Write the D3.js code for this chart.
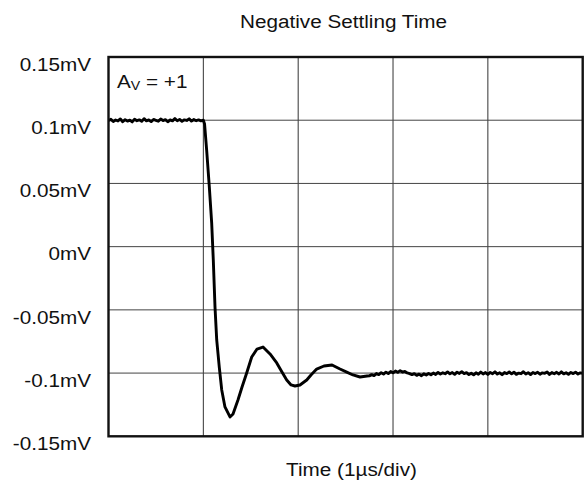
<!DOCTYPE html>
<html>
<head>
<meta charset="utf-8">
<script src="https://cdn.jsdelivr.net/npm/d3@7/dist/d3.min.js"></script>
<style>
  html, body { margin: 0; padding: 0; background: #fff; }
  svg { display: block; font-family: "Liberation Sans", Arial, sans-serif; }
</style>
</head>
<body>
<svg id="chart" width="585" height="484"></svg>
<script>
// ---- data ----
const title = "Negative Settling Time";
const xLabel = "Time (1µs/div)";
const yTickValues = [0.15, 0.1, 0.05, 0, -0.05, -0.1, -0.15];
const yTickLabels = ["0.15mV", "0.1mV", "0.05mV", "0mV", "-0.05mV", "-0.1mV", "-0.15mV"];
const xDivisions = [0, 1, 2, 3, 4, 5]; // µs

const sampleStep = 0.025; // µs between scope samples in flat sections
const preStart = 0;
const preValues = [0.0998,0.1007,0.0990,0.1002,0.0994,0.1010,0.0988,0.1004,0.0993,0.1001,
  0.0987,0.1008,0.0996,0.1003,0.0991,0.1012,0.0995,0.1002,0.0989,0.1006,
  0.0999,0.0992,0.1009,0.0997,0.1004,0.0988,0.1002,0.0995,0.1013,0.0996,
  0.1006,0.0991,0.1003,0.0998,0.1011,0.0993,0.1005,0.0996,0.1002,0.0995,0.1000];

const edgeTimes = [1.013,1.035,1.063,1.088,1.105,1.123,1.141,1.168,1.194,1.228,1.281,1.313,
  1.365,1.408,1.457,1.510,1.566,1.629,1.703,1.774,1.829,1.879,1.925,1.966,2.019,2.090,2.135,
  2.195,2.272,2.357,2.441,2.512,2.578,2.652,2.726];
const edgeValues = [0.097,0.0764,0.0472,0.0187,-0.0106,-0.0478,-0.0738,-0.0952,-0.1134,-0.1268,-0.1347,-0.1324,
  -0.1213,-0.111,-0.0999,-0.0873,-0.081,-0.0794,-0.0849,-0.092,-0.0992,-0.1055,-0.1094,-0.1102,-0.1094,-0.1055,-0.1015,
  -0.0968,-0.0944,-0.0936,-0.0968,-0.0992,-0.1015,-0.1031,-0.1023];

const tailStart = 2.75;
const tailValues = [-0.1022,-0.1012,-0.1020,-0.1004,-0.1012,-0.0997,-0.1008,-0.0993,-0.1004,-0.0988,
  -0.0998,-0.0984,-0.0994,-0.0981,-0.0992,-0.0987,-0.0999,-0.1004,-0.1012,-0.1004,
  -0.1018,-0.1008,-0.1021,-0.1006,-0.1015,-0.1003,-0.1013,-0.1000,-0.1011,-0.0995,
  -0.1008,-0.0998,-0.1005,-0.0991,-0.1006,-0.0996,-0.1010,-0.0993,-0.1003,-0.0989,
  -0.1004,-0.0997,-0.1012,-0.1001,-0.1014,-0.0998,-0.1009,-0.0992,-0.1007,-0.0996,
  -0.1011,-0.0995,-0.1005,-0.0990,-0.1008,-0.0998,-0.1013,-0.0996,-0.1004,-0.0991,
  -0.1006,-0.0993,-0.1010,-0.1000,-0.1005,-0.0989,-0.1007,-0.0997,-0.1012,-0.0995,
  -0.1004,-0.0994,-0.1009,-0.0998,-0.1002,-0.0991,-0.1011,-0.0996,-0.1005,-0.0994,
  -0.1007,-0.0990,-0.1006,-0.0997,-0.1010,-0.0995,-0.1004,-0.0993,-0.1008,-0.0998,-0.1001];

// ---- build trace ----
const trace = [];
preValues.forEach((v, i) => trace.push([preStart + i * sampleStep, v]));
edgeTimes.forEach((t, i) => trace.push([t, edgeValues[i]]));
tailValues.forEach((v, i) => trace.push([tailStart + i * sampleStep, v]));

// ---- layout ----
const L = 108.5, R = 582.7, T = 57, B = 436.3;
const sx = 1.09; // horizontal text stretch
const fs = 19;

const svg = d3.select("#chart");
const x = d3.scaleLinear().domain([0, 5]).range([L, R]);
const y = d3.scaleLinear().domain([-0.15, 0.15]).range([B, T]);

// grid
svg.append("g").selectAll("line").data(xDivisions.slice(1, -1)).join("line")
  .attr("x1", d => x(d)).attr("x2", d => x(d)).attr("y1", T).attr("y2", B)
  .attr("stroke", "#333").attr("stroke-width", 1);
svg.append("g").selectAll("line").data(yTickValues.slice(1, -1)).join("line")
  .attr("x1", L).attr("x2", R).attr("y1", d => y(d)).attr("y2", d => y(d))
  .attr("stroke", "#444").attr("stroke-width", 1);

// trace
svg.append("path").datum(trace)
  .attr("d", d3.line().x(d => x(d[0])).y(d => y(d[1])))
  .attr("fill", "none").attr("stroke", "#000").attr("stroke-width", 2.9)
  .attr("stroke-linejoin", "round");

// frame
svg.append("rect").attr("x", L).attr("y", T).attr("width", R - L).attr("height", B - T)
  .attr("fill", "none").attr("stroke", "#111").attr("stroke-width", 2.4);

// y tick labels
svg.append("g").selectAll("text").data(yTickValues).join("text")
  .attr("transform", d => `translate(91,${y(d) + 13.8}) scale(${sx},1)`)
  .attr("text-anchor", "end").attr("font-size", fs).attr("fill", "#111")
  .text((d, i) => yTickLabels[i]);

// title
svg.append("text").attr("transform", `translate(343.5,28.3) scale(${sx},1)`)
  .attr("text-anchor", "middle").attr("font-size", fs).attr("fill", "#111").text(title);

// x label
svg.append("text").attr("transform", `translate(351.5,476) scale(${sx},1)`)
  .attr("text-anchor", "middle").attr("font-size", fs).attr("fill", "#111").text(xLabel);

// annotation A_V = +1
const ann = svg.append("text").attr("transform", `translate(117,88.3) scale(${sx},1)`)
  .attr("font-size", fs).attr("fill", "#111");
ann.append("tspan").text("A");
ann.append("tspan").attr("font-size", 13).attr("dy", 2).text("V");
ann.append("tspan").attr("dy", -2).text(" = +1");
</script>
</body>
</html>
